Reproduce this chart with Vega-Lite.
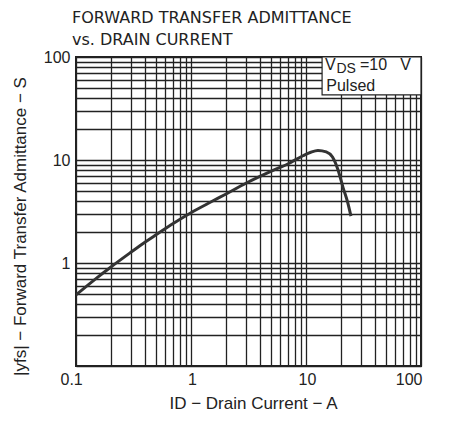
{
  "$schema": "https://vega.github.io/schema/vega-lite/v6.json",
  "autosize": "none",
  "width": 345,
  "height": 309,
  "padding": {"left": 76, "top": 57, "right": 34, "bottom": 55},
  "background": "white",
  "config": {
    "view": {"stroke": "#222", "strokeWidth": 2},
    "font": "Liberation Sans"
  },
  "title": {
    "text": ["FORWARD TRANSFER ADMITTANCE", "vs. DRAIN CURRENT"],
    "anchor": "start",
    "frame": "group",
    "dx": -4,
    "offset": 1,
    "font": "DejaVu Sans",
    "fontSize": 16,
    "fontWeight": "normal",
    "color": "#222",
    "lineHeight": 22
  },
  "data": {
    "values": [
      {"id": 0.1, "yfs": 0.49},
      {"id": 0.15, "yfs": 0.71},
      {"id": 0.2, "yfs": 0.91},
      {"id": 0.3, "yfs": 1.27},
      {"id": 0.4, "yfs": 1.6},
      {"id": 0.5, "yfs": 1.89},
      {"id": 0.7, "yfs": 2.42},
      {"id": 1, "yfs": 3.08},
      {"id": 1.5, "yfs": 3.93},
      {"id": 2, "yfs": 4.65},
      {"id": 3, "yfs": 5.95},
      {"id": 5, "yfs": 7.8},
      {"id": 7, "yfs": 9.2},
      {"id": 9.4, "yfs": 11.0},
      {"id": 11, "yfs": 11.9},
      {"id": 12.7, "yfs": 12.4},
      {"id": 15, "yfs": 12.0},
      {"id": 17, "yfs": 10.7},
      {"id": 19, "yfs": 8.0},
      {"id": 21, "yfs": 5.4},
      {"id": 23, "yfs": 3.9},
      {"id": 24.6, "yfs": 2.85}
    ]
  },
  "layer": [
    {
      "mark": {"type": "line", "stroke": "#333", "strokeWidth": 3, "interpolate": "monotone", "clip": true},
      "encoding": {
        "x": {
          "field": "id", "type": "quantitative",
          "scale": {"type": "log", "domain": [0.1, 100], "nice": false},
          "axis": {
            "values": [0.1,0.2,0.3,0.4,0.5,0.6,0.7,0.8,0.9,1,2,3,4,5,6,7,8,9,10,20,30,40,50,60,70,80,90,100],
            "labelExpr": "indexof([0.1,1,10,100], datum.value) >= 0 ? format(datum.value, '~g') : ''",
            "labelOverlap": false,
            "labelOffset": {"condition": {"test": "datum.value == 0.1", "value": -16}, "value": 1},
            "grid": true, "gridColor": "#222", "gridWidth": 1.3,
            "ticks": false, "domain": false,
            "labelFontSize": 16, "labelColor": "#222", "labelPadding": 5,
            "title": "ID − Drain Current − A",
            "titleFontSize": 17, "titleFontWeight": "normal", "titleColor": "#222",
            "titleBaseline": "alphabetic", "titleY": 42, "titleX": 177
          }
        },
        "y": {
          "field": "yfs", "type": "quantitative",
          "scale": {"type": "log", "domain": [0.1, 100], "nice": false},
          "axis": {
            "values": [0.1,0.2,0.3,0.4,0.5,0.6,0.7,0.8,0.9,1,2,3,4,5,6,7,8,9,10,20,30,40,50,60,70,80,90,100],
            "labelExpr": "indexof([1,10,100], datum.value) >= 0 ? format(datum.value, '~g') : ''",
            "labelOverlap": false,
            "grid": true, "gridColor": "#222", "gridWidth": 1.3,
            "ticks": false, "domain": false,
            "labelFontSize": 16, "labelColor": "#222", "labelPadding": 6,
            "title": "|yfs| − Forward Transfer Admittance − S",
            "titleFontSize": 17, "titleFontWeight": "normal", "titleColor": "#222",
            "titleAngle": -90, "titleAlign": "center", "titleBaseline": "middle",
            "titleX": -56, "titleY": 169
          }
        }
      }
    },
    {
      "data": {"values": [{}]},
      "mark": {"type": "rect", "fill": "white", "stroke": "#222", "strokeWidth": 1.2},
      "encoding": {
        "x": {"datum": 13.8}, "x2": {"datum": 100},
        "y": {"datum": 42.8}, "y2": {"datum": 100}
      }
    },
    {
      "data": {"values": [{}]},
      "mark": {"type": "text", "align": "left", "baseline": "alphabetic", "fontSize": 16, "fill": "#222"},
      "encoding": {"x": {"datum": 14.6}, "y": {"datum": 74.8}, "text": {"value": "V"}}
    },
    {
      "data": {"values": [{}]},
      "mark": {"type": "text", "align": "left", "baseline": "alphabetic", "fontSize": 14, "fill": "#222"},
      "encoding": {"x": {"datum": 18.4}, "y": {"datum": 70}, "text": {"value": "DS"}}
    },
    {
      "data": {"values": [{}]},
      "mark": {"type": "text", "align": "left", "baseline": "alphabetic", "fontSize": 16, "fill": "#222"},
      "encoding": {"x": {"datum": 29.5}, "y": {"datum": 74.8}, "text": {"value": "=10"}}
    },
    {
      "data": {"values": [{}]},
      "mark": {"type": "text", "align": "left", "baseline": "alphabetic", "fontSize": 16, "fill": "#222"},
      "encoding": {"x": {"datum": 66}, "y": {"datum": 74.8}, "text": {"value": "V"}}
    },
    {
      "data": {"values": [{}]},
      "mark": {"type": "text", "align": "left", "baseline": "alphabetic", "fontSize": 16, "fill": "#222"},
      "encoding": {"x": {"datum": 15}, "y": {"datum": 46.8}, "text": {"value": "Pulsed"}}
    }
  ]
}
